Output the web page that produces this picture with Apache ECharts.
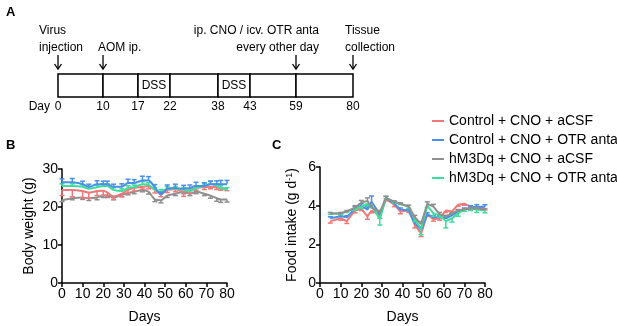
<!DOCTYPE html>
<html>
<head>
<meta charset="utf-8">
<script src="https://cdn.jsdelivr.net/npm/echarts@6/dist/echarts.min.js"></script>
<style>
  html, body { margin: 0; padding: 0; background: #fff; }
  #main { width: 617px; height: 326px; }
</style>
</head>
<body>
<div id="main"></div>
<script>
// ---- panel A: protocol timeline ----
const tlDays = [0, 10, 17, 22, 38, 43, 59, 80];
const tlDssSegments = [2, 4];           // segments (between day marks) labelled DSS
const tlEventMarks = [0, 1, 6, 7];      // which day marks get an arrow
const tlEventText = [
  ['Virus', 'injection'],
  ['', 'AOM ip.'],
  ['ip. CNO / icv. OTR anta', 'every other day'],
  ['Tissue', 'collection']
];

// ---- panel B: body weight ----
const bwDays = [0, 5, 10, 13, 17, 20, 22, 25, 29, 32, 35, 39, 42, 45, 48, 51, 55, 59, 62, 65, 69, 72, 75, 77, 80];
const bwCtrlAcsf = [24.5, 24.5, 24.2, 23.8, 24.2, 24.3, 23.8, 22.8, 23.5, 24.5, 25, 25.3, 25.5, 24.5, 23.3, 24.5, 24.7, 24, 24.5, 25, 25.2, 25.3, 25.2, 25, 24.8];
const bwCtrlOtr = [26.5, 26.5, 26, 25.3, 26, 26, 26, 25.3, 25.3, 26.3, 26.3, 27, 27, 25.2, 23.3, 24.8, 25, 24.8, 25, 25.5, 25.5, 26, 26, 26, 26];
const bwHm3Acsf = [21.8, 22.3, 22.5, 22.3, 22.5, 23, 23, 22.5, 23.2, 23.7, 24, 24.5, 24, 22, 21.8, 23, 23.5, 24, 23.5, 24, 23.5, 23, 22.3, 22, 22];
const bwHm3Otr = [25.5, 25.5, 25.3, 24.8, 25.2, 25.5, 25.5, 24.5, 24.2, 25, 25.2, 26, 25.8, 24.5, 24, 24.8, 24.8, 24.5, 24.2, 25, 25.5, 26.2, 25.5, 25, 24.5];
// one-sided SEM (negative = drawn downward)
const bwErrCtrlAcsf = [-1.5, -1.8, -1.8, -1.5, -1.2, -1.2, -1, -0.8, -0.8, -0.9, -0.8, -0.6, -0.7, -0.8, -0.6, -0.7, -0.7, -1.2, -0.8, -0.6, -0.6, -0.5, -0.6, -0.6, -0.5];
const bwErrCtrlOtr = [0.9, 1, 0.8, 0.7, 0.9, 0.8, 0.8, 0.7, 0.8, 1, 0.9, 1.1, 1, 0.7, 0.6, 1, 1, 0.9, 0.8, 1, 0.9, 0.8, 0.9, 1, 1];
const bwErrHm3Acsf = [-0.4, -0.4, -0.5, -0.6, -0.6, -0.5, -0.5, -0.6, -0.5, -0.5, -0.5, -0.5, -0.6, -0.6, -0.7, -0.5, -0.5, -0.5, -0.5, -0.5, -0.5, -0.7, -0.8, -0.8, -0.7];
const bwErrHm3Otr = [0.6, 0.6, 0.6, 0.6, 0.6, 0.6, 0.6, 0.6, 0.6, 0.6, 0.6, 0.7, 0.6, 0.6, 0.6, 0.6, 0.6, 0.6, 0.6, 0.6, 0.6, 0.6, 0.6, 0.6, 0.6];

// ---- panel C: food intake ----
const fiDays = [5, 10, 13, 17, 20, 23, 25, 29, 32, 36, 39, 43, 46, 49, 52, 55, 58, 61, 64, 67, 70, 73, 76, 80];
const fiCtrlAcsf = [3.2, 3.35, 3.2, 3.75, 3.85, 3.45, 3.75, 3.5, 4.35, 4.05, 3.7, 3.75, 3.0, 2.55, 3.55, 3.3, 3.35, 3.75, 3.7, 4.05, 4.1, 3.95, 3.9, 3.85];
const fiCtrlOtr = [3.35, 3.45, 3.4, 3.85, 4.0, 3.8, 4.2, 3.55, 4.4, 4.1, 3.8, 3.75, 3.1, 2.75, 3.55, 3.4, 3.4, 3.35, 3.5, 3.7, 3.8, 3.9, 3.95, 3.95];
const fiHm3Acsf = [3.6, 3.6, 3.7, 3.9, 4.15, 4.25, 3.9, 3.65, 4.4, 4.2, 4.1, 3.95, 3.4, 3.05, 4.1, 3.95, 3.55, 3.45, 3.6, 3.75, 3.8, 3.85, 3.85, 3.8];
const fiHm3Otr = [3.6, 3.6, 3.7, 3.85, 3.95, 4.1, 4.0, 3.3, 4.4, 4.2, 4.1, 3.95, 3.3, 2.8, 4.0, 3.6, 3.5, 3.2, 3.35, 3.6, 3.8, 3.85, 3.8, 3.75];
const fiErrCtrlAcsf = [-0.1, -0.1, -0.12, -0.12, -0.1, -0.15, -0.12, -0.15, -0.1, -0.1, -0.12, -0.1, -0.15, -0.15, -0.1, -0.1, -0.1, -0.1, -0.1, -0.08, -0.08, -0.08, -0.08, -0.08];
const fiErrCtrlOtr = [0.08, 0.08, 0.08, 0.1, 0.1, 0.15, 0.3, 0.12, 0.08, 0.08, 0.08, 0.08, 0.1, 0.1, 0.08, 0.08, 0.08, 0.08, 0.08, 0.08, 0.08, 0.1, 0.1, 0.1];
const fiErrHm3Acsf = [0.05, 0.05, 0.05, 0.1, 0.12, 0.15, 0.12, 0.1, 0.08, 0.05, 0.05, 0.08, 0.1, 0.12, 0.1, 0.12, 0.1, 0.05, 0.05, 0.05, 0.05, 0.05, 0.05, 0.05];
const fiErrHm3Otr = [-0.05, -0.05, -0.05, -0.08, -0.1, -0.1, -0.1, -0.3, -0.05, -0.05, -0.05, -0.08, -0.1, -0.3, -0.1, -0.15, -0.1, -0.35, -0.2, -0.15, -0.1, -0.1, -0.15, -0.12];

const groupNames = ['Control + CNO + aCSF', 'Control + CNO + OTR anta', 'hM3Dq + CNO + aCSF', 'hM3Dq + CNO + OTR anta'];
const groupColors = ['#f07878', '#4b8fe6', '#8f8f8f', '#3fdc9c'];
const bwTickLabels = [0, 10, 20, 30];
const fiTickLabels = [0, 2, 4, 6];

// layout of the schematic (not data): where each day mark sits along the bar
const tlSlot = [0, 45, 80, 112, 160, 192, 238, 295];

const FONT = '"Liberation Sans", Arial, Helvetica, sans-serif';

function pairs(xs, ys) { return xs.map((x, i) => [x, ys[i]]); }
function triples(xs, ys, es) { return xs.map((x, i) => [x, ys[i], es[i]]); }

function errRender(params, api) {
  const p0 = api.coord([api.value(0), api.value(1)]);
  const p1 = api.coord([api.value(0), api.value(1) + api.value(2)]);
  const c = api.visual('color');
  return {
    type: 'group',
    children: [
      { type: 'line', shape: { x1: p0[0], y1: p0[1], x2: p1[0], y2: p1[1] }, style: { stroke: c, lineWidth: 1.5 } },
      { type: 'line', shape: { x1: p1[0] - 2.5, y1: p1[1], x2: p1[0] + 2.5, y2: p1[1] }, style: { stroke: c, lineWidth: 1.5 } }
    ]
  };
}

let chartDom = document.getElementById('main');
let myChart = echarts.init(chartDom, null, { renderer: 'canvas' });

const axisCommon = {
  axisLine: { lineStyle: { color: '#000', width: 1.5 } },
  axisTick: { length: 4, lineStyle: { color: '#000', width: 1.5 } },
  axisLabel: { color: '#000', fontSize: 14, fontFamily: FONT, margin: 4 },
  splitLine: { show: false },
  nameTextStyle: { color: '#000', fontSize: 14, fontFamily: FONT }
};

const bwSets = [bwCtrlAcsf, bwCtrlOtr, bwHm3Acsf, bwHm3Otr];
const bwErrs = [bwErrCtrlAcsf, bwErrCtrlOtr, bwErrHm3Acsf, bwErrHm3Otr];
const fiSets = [fiCtrlAcsf, fiCtrlOtr, fiHm3Acsf, fiHm3Otr];
const fiErrs = [fiErrCtrlAcsf, fiErrCtrlOtr, fiErrHm3Acsf, fiErrHm3Otr];
const bwZ = [3, 5, 2, 4];
const fiZ = [2, 3, 5, 4];

const series = [];
groupNames.forEach((name, i) => {
  series.push({
    name: name, type: 'line', xAxisIndex: 1, yAxisIndex: 1,
    data: pairs(bwDays, bwSets[i]), smooth: 0.25, showSymbol: false,
    lineStyle: { width: 2 }, color: groupColors[i], z: bwZ[i]
  });
});
groupNames.forEach((name, i) => {
  series.push({
    name: name, type: 'line', xAxisIndex: 2, yAxisIndex: 2,
    data: pairs(fiDays, fiSets[i]), showSymbol: false,
    lineStyle: { width: 2 }, color: groupColors[i], z: fiZ[i]
  });
});
groupNames.forEach((name, i) => {
  series.push({
    name: name, type: 'custom', xAxisIndex: 1, yAxisIndex: 1, clip: false,
    data: triples(bwDays, bwSets[i], bwErrs[i]), renderItem: errRender,
    color: groupColors[i], z: bwZ[i]
  });
  series.push({
    name: name, type: 'custom', xAxisIndex: 2, yAxisIndex: 2, clip: false,
    data: triples(fiDays, fiSets[i], fiErrs[i]), renderItem: errRender,
    color: groupColors[i], z: fiZ[i]
  });
});

// timeline segments
series.push({
  type: 'custom', xAxisIndex: 0, yAxisIndex: 0, clip: false, silent: true,
  data: tlDays.slice(1).map((d, i) => [tlSlot[i], tlSlot[i + 1], i]),
  renderItem: function (params, api) {
    const a = api.coord([api.value(0), 1]);
    const b = api.coord([api.value(1), 0]);
    const seg = api.value(2);
    const children = [{
      type: 'rect', shape: { x: a[0], y: a[1], width: b[0] - a[0], height: b[1] - a[1] },
      style: { fill: '#fff', stroke: '#000', lineWidth: 1.5 }
    }];
    if (tlDssSegments.indexOf(seg) >= 0) {
      children.push({
        type: 'text',
        style: { text: 'DSS', x: (a[0] + b[0]) / 2, y: (a[1] + b[1]) / 2, align: 'center', verticalAlign: 'middle',
          fill: '#000', font: '12px ' + FONT }
      });
    }
    return { type: 'group', children: children };
  }
});
// day numbers under the bar
series.push({
  type: 'custom', xAxisIndex: 0, yAxisIndex: 0, clip: false, silent: true,
  data: tlDays.map((d, i) => [tlSlot[i], d, i]),
  renderItem: function (params, api) {
    const p = api.coord([api.value(0), 0]);
    const children = [{
      type: 'text',
      style: { text: String(api.value(1)), x: p[0], y: p[1] + 10, align: 'center', verticalAlign: 'middle',
        fill: '#000', font: '12px ' + FONT }
    }];
    if (api.value(2) === 0) {
      children.push({
        type: 'text',
        style: { text: 'Day', x: p[0] - 8, y: p[1] + 10, align: 'right', verticalAlign: 'middle',
          fill: '#000', font: '12px ' + FONT }
      });
    }
    return { type: 'group', children: children };
  }
});
// event arrows and captions
const tlAlign = ['left', 'left', 'right', 'left'];
const tlShift = [-19, -5, 23, -8];
series.push({
  type: 'custom', xAxisIndex: 0, yAxisIndex: 0, clip: false, silent: true,
  data: tlEventMarks.map((m, i) => [tlSlot[m], i]),
  renderItem: function (params, api) {
    const p = api.coord([api.value(0), 1]);
    const k = api.value(1);
    const x = p[0], top = p[1];
    const tx = x + tlShift[k];
    const children = [
      { type: 'line', shape: { x1: x, y1: top - 19, x2: x, y2: top - 5 }, style: { stroke: '#000', lineWidth: 1.3 } },
      { type: 'polyline', shape: { points: [[x - 3.5, top - 10], [x, top - 5], [x + 3.5, top - 10]] },
        style: { stroke: '#000', lineWidth: 1.3, fill: null } }
    ];
    tlEventText[k].forEach((t, j) => {
      if (!t) return;
      children.push({
        type: 'text',
        style: { text: t, x: tx, y: top - 43 + j * 17, align: tlAlign[k], verticalAlign: 'middle',
          fill: '#000', font: '12px ' + FONT }
      });
    });
    return { type: 'group', children: children };
  }
});

const option = {
  animation: false,
  textStyle: { fontFamily: FONT },
  title: [
    { text: 'A', left: 1, top: 1, textStyle: { fontSize: 13, fontWeight: 'bold', color: '#000', fontFamily: FONT } },
    { text: 'B', left: 1, top: 134, textStyle: { fontSize: 13, fontWeight: 'bold', color: '#000', fontFamily: FONT } },
    { text: 'C', left: 267, top: 134, textStyle: { fontSize: 13, fontWeight: 'bold', color: '#000', fontFamily: FONT } }
  ],
  legend: {
    data: groupNames, orient: 'vertical', left: 432, top: 114, padding: 0,
    icon: 'rect', itemWidth: 12, itemHeight: 2, itemGap: 5,
    textStyle: { fontSize: 14, color: '#000', fontFamily: FONT }
  },
  grid: [
    { left: 58, top: 74, width: 295, height: 23 },
    { left: 62, top: 169, width: 165, height: 114 },
    { left: 320, top: 167, width: 165, height: 116 }
  ],
  xAxis: [
    { gridIndex: 0, type: 'value', min: 0, max: tlSlot[tlSlot.length - 1], show: false },
    Object.assign({}, axisCommon, {
      gridIndex: 1, type: 'value', min: 0, max: 80, interval: 10,
      name: 'Days', nameLocation: 'middle', nameGap: 27
    }),
    Object.assign({}, axisCommon, {
      gridIndex: 2, type: 'value', min: 0, max: 80, interval: 10,
      name: 'Days', nameLocation: 'middle', nameGap: 27
    })
  ],
  yAxis: [
    { gridIndex: 0, type: 'value', min: 0, max: 1, show: false },
    Object.assign({}, axisCommon, {
      gridIndex: 1, type: 'value', min: bwTickLabels[0], max: bwTickLabels[bwTickLabels.length - 1], interval: 10,
      name: 'Body weight (g)', nameLocation: 'middle', nameGap: 26
    }),
    Object.assign({}, axisCommon, {
      gridIndex: 2, type: 'value', min: fiTickLabels[0], max: fiTickLabels[fiTickLabels.length - 1], interval: 2,
      name: 'Food intake (g d{sup|-1})', nameLocation: 'middle', nameGap: 20,
      nameTextStyle: {
        color: '#000', fontSize: 14, fontFamily: FONT,
        rich: { sup: { fontSize: 9, verticalAlign: 'top', color: '#000', fontFamily: FONT, padding: [0, 0, 6, 0] } }
      }
    })
  ],
  series: series
};

myChart.setOption(option);
</script>
</body>
</html>
